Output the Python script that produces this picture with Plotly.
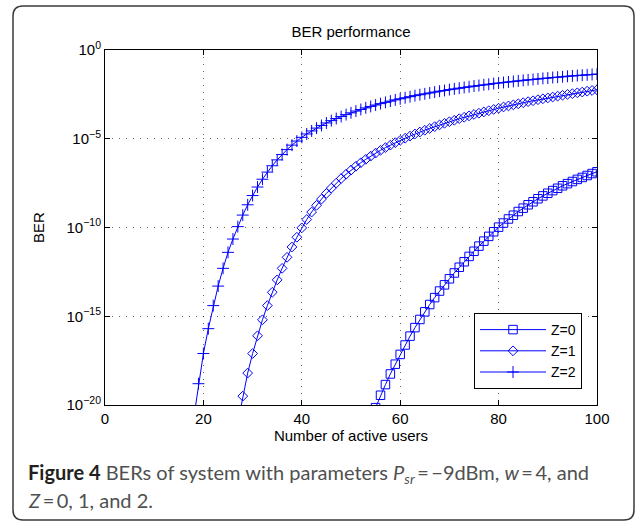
import plotly.graph_objects as go

# log10(BER), one value per number of active users
users_z0 = list(range(55, 101))
log_ber_z0 = [
    -20.15, -19.45, -18.85, -18.25, -17.70, -17.15, -16.62, -16.12, -15.64, -15.18, -14.75,
    -14.34, -13.95, -13.58, -13.23, -12.89, -12.56, -12.24, -11.93, -11.63, -11.34,
    -11.05, -10.77, -10.50, -10.24, -9.98, -9.75, -9.52, -9.31, -9.10, -8.91,
    -8.72, -8.55, -8.38, -8.22, -8.07, -7.92, -7.79, -7.65, -7.53, -7.41,
    -7.29, -7.18, -7.07, -6.96, -6.86,
]

users_z1 = list(range(27, 101))
log_ber_z1 = [
    -21.0, -19.5, -18.2, -17.1, -16.1, -15.2, -14.4, -13.65, -12.95, -12.3, -11.68,
    -11.1, -10.55, -10.02, -9.55, -9.13, -8.75, -8.40, -8.08, -7.78, -7.50,
    -7.24, -7.00, -6.77, -6.55, -6.35, -6.16, -5.98, -5.81, -5.65, -5.50,
    -5.36, -5.22, -5.09, -4.97, -4.85, -4.73, -4.62, -4.52, -4.42, -4.32,
    -4.22, -4.13, -4.04, -3.96, -3.87, -3.79, -3.71, -3.63, -3.56, -3.49,
    -3.42, -3.35, -3.28, -3.21, -3.15, -3.09, -3.03, -2.97, -2.91, -2.86,
    -2.80, -2.75, -2.70, -2.65, -2.60, -2.55, -2.50, -2.46, -2.41, -2.37,
    -2.32, -2.28, -2.24,
]

users_z2 = list(range(18, 101))
log_ber_z2 = [
    -20.8, -18.8, -17.1, -15.7, -14.4, -13.3, -12.3, -11.4, -10.65, -9.95, -9.3,
    -8.72, -8.2, -7.72, -7.28, -6.88, -6.52, -6.19, -5.89, -5.61, -5.36,
    -5.13, -4.92, -4.73, -4.56, -4.40, -4.25, -4.11, -3.98, -3.86, -3.75,
    -3.64, -3.54, -3.44, -3.35, -3.26, -3.18, -3.10, -3.02, -2.95, -2.88,
    -2.81, -2.75, -2.69, -2.63, -2.57, -2.52, -2.47, -2.42, -2.37, -2.32,
    -2.28, -2.23, -2.19, -2.15, -2.11, -2.07, -2.03, -2.00, -1.96, -1.93,
    -1.89, -1.86, -1.83, -1.80, -1.77, -1.74, -1.71, -1.68, -1.66, -1.63,
    -1.60, -1.58, -1.55, -1.53, -1.51, -1.48, -1.46, -1.44, -1.42, -1.40,
    -1.38, -1.36,
]

series_names = ["Z=0", "Z=1", "Z=2"]
x_ticks = [0, 20, 40, 60, 80, 100]
y_tick_exponents = [0, -5, -10, -15, -20]

W, H = 637, 522
L, R, T, B = 105, 40, 50, 117
PW, PH = W - L - R, H - T - B


def px(x):
    return (x - L) / PW


def py(y):
    return (H - B - y) / PH


BLUE = "#0000ff"
FONT = "Liberation Sans"

fig = go.Figure()
for users, logs, name, symbol, size in [
    (users_z0, log_ber_z0, series_names[0], "square-open", 8.5),
    (users_z1, log_ber_z1, series_names[1], "diamond-open", 7.5),
    (users_z2, log_ber_z2, series_names[2], "cross-thin-open", 8.5),
]:
    fig.add_trace(
        go.Scatter(
            x=users,
            y=[10 ** v for v in logs],
            name=name,
            mode="lines+markers",
            line=dict(color=BLUE, width=1),
            marker=dict(symbol=symbol, size=size, color=BLUE,
                        line=dict(color=BLUE, width=1)),
        )
    )

axis_common = dict(
    showline=True, linecolor="black", linewidth=1, mirror="ticks",
    ticks="inside", ticklen=5, tickcolor="black",
    showgrid=True, gridcolor="rgba(0,0,0,0.6)", griddash="1px,6px", gridwidth=1,
    zeroline=False, tickfont=dict(family=FONT, size=15, color="black"),
)

fig.update_layout(
    width=W, height=H,
    margin=dict(l=L, r=R, t=T, b=B),
    paper_bgcolor="white", plot_bgcolor="white",
    font=dict(family=FONT, size=15, color="black"),
    title=dict(text="BER performance", x=0.5, xref="paper", y=1 - 32 / H,
               yanchor="middle", font=dict(family=FONT, size=15)),
    xaxis=dict(
        range=[0, 100], tickvals=x_ticks,
        title=dict(text="Number of active users", standoff=0,
                   font=dict(family=FONT, size=15)),
        **axis_common,
    ),
    yaxis=dict(
        type="log", range=[-20, 0],
        tickvals=[10 ** e for e in y_tick_exponents],
        ticktext=["10<sup>%s</sup>" % (str(e).replace("-", "\u2212"))
                  for e in y_tick_exponents],
        title=dict(text="BER", standoff=18, font=dict(family=FONT, size=15)),
        **axis_common,
    ),
    legend=dict(
        x=px(582), y=py(389), xanchor="right", yanchor="bottom",
        bgcolor="white", bordercolor="black", borderwidth=1,
        font=dict(family=FONT, size=14, color="black"),
        itemwidth=66, tracegroupgap=0,
    ),
)

# rounded frame around figure and caption
x0, x1, y0, y1, r = 13, 634, 6, 520, 10
rx, ry = r / PW, r / PH
X0, X1, Y0, Y1 = px(x0), px(x1), py(y0), py(y1)
path = (
    f"M{X0 + rx},{Y0} L{X1 - rx},{Y0} Q{X1},{Y0} {X1},{Y0 - ry} "
    f"L{X1},{Y1 + ry} Q{X1},{Y1} {X1 - rx},{Y1} "
    f"L{X0 + rx},{Y1} Q{X0},{Y1} {X0},{Y1 + ry} "
    f"L{X0},{Y0 - ry} Q{X0},{Y0} {X0 + rx},{Y0} Z"
)
fig.add_shape(type="path", path=path, xref="paper", yref="paper",
              line=dict(color="#3a3a3a", width=1.5), layer="below")

CAP = "Lato"
fig.add_annotation(
    xref="paper", yref="paper", x=px(26), y=py(473), xanchor="left", yanchor="middle",
    showarrow=False, font=dict(family=CAP, size=20, color="#505050"),
    text=("<b><span style='color:#231f20'>Figure 4</span></b> BERs of system with parameters "
          "<i>P</i><sub><i>sr</i></sub>\u2009=\u2009\u22129dBm, <i>w</i>\u2009=\u20094, and"),
)
fig.add_annotation(
    xref="paper", yref="paper", x=px(26), y=py(500), xanchor="left", yanchor="middle",
    showarrow=False, font=dict(family=CAP, size=20, color="#505050"),
    text="<i>Z</i>\u2009=\u20090, 1, and 2.",
)

fig.write_html(
    "out.html",
    config={"displayModeBar": False},
    post_script="document.body.style.margin='0px';",
)
